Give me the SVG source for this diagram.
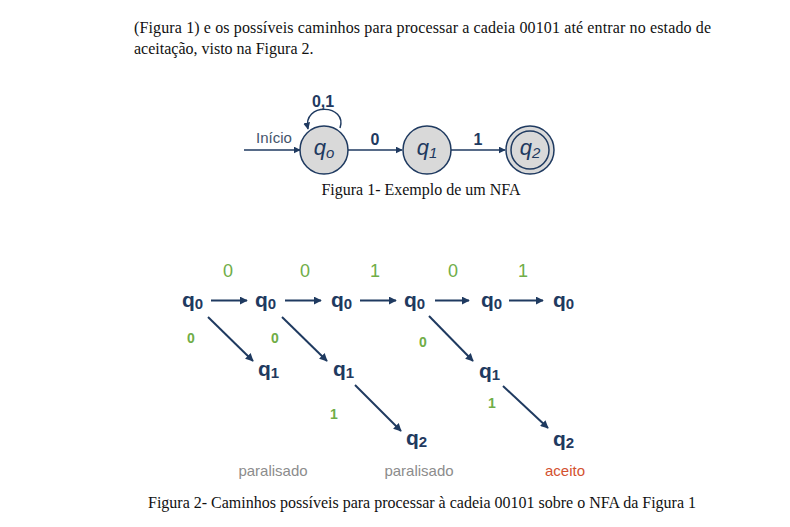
<svg xmlns="http://www.w3.org/2000/svg" width="790" height="527" viewBox="0 0 790 527">
<defs>
<marker id="ah" viewBox="0 0 10 10" refX="9" refY="5" markerWidth="7" markerHeight="7" markerUnits="userSpaceOnUse" orient="auto"><path d="M0,0 L10,5 L0,10 z" fill="#1f3a60"/></marker>
<marker id="ah2" viewBox="0 0 10 10" refX="9" refY="5" markerWidth="8" markerHeight="8" markerUnits="userSpaceOnUse" orient="auto"><path d="M0,0 L10,5 L0,10 z" fill="#1f3a60"/></marker>
<style>
.serif{font-family:"Liberation Serif","Times New Roman",serif;font-size:16px;fill:#111}
.st{fill:#d9d9d9;stroke:#1f3a60;stroke-width:1.5}
.e1{stroke:#1f3a60;stroke-width:1.5;fill:none;marker-end:url(#ah)}
.e2{stroke:#1f3a60;stroke-width:2;fill:none;marker-end:url(#ah2)}
.sl{font-family:"Liberation Sans",Arial,sans-serif;font-style:italic;font-size:22px;fill:#1f3a60;text-anchor:middle}
.lb{font-family:"Liberation Sans",Arial,sans-serif;font-weight:bold;font-size:16px;fill:#1f3a60;text-anchor:middle}
.q{font-family:"Liberation Sans",Arial,sans-serif;font-weight:bold;font-size:21px;fill:#1f3a60}
.g{font-family:"Liberation Sans",Arial,sans-serif;font-size:18px;fill:#70ad47;text-anchor:middle}
.gb{font-family:"Liberation Sans",Arial,sans-serif;font-weight:bold;font-size:14px;fill:#70ad47;text-anchor:middle}
.res{font-family:"Liberation Sans",Arial,sans-serif;font-size:15px;text-anchor:middle}
</style>
</defs>
<rect width="790" height="527" fill="#fff"/>
<text class="serif" x="134" y="33" textLength="577" lengthAdjust="spacing">(Figura 1) e os possíveis caminhos para processar a cadeia 00101 até entrar no estado de</text>
<text class="serif" x="134" y="54">aceitação, visto na Figura 2.</text>

<g id="connectors1">
<line class="e1" x1="244" y1="150" x2="300" y2="150"/>
<path class="e1" d="M340,128 C348,104 302,102 308,129"/>
<line class="e1" x1="348" y1="150" x2="402" y2="150"/>
<line class="e1" x1="451" y1="150" x2="505" y2="150"/>
<text x="274" y="143" font-family="Liberation Sans, Arial, sans-serif" font-size="15" fill="#44546a" text-anchor="middle">Início</text>
<text class="lb" x="323" y="107">0,1</text>
<text class="lb" x="375" y="145">0</text>
<text class="lb" x="478" y="145">1</text>
</g>
<g id="q0">
<circle class="st" cx="324" cy="150" r="24"/>
<text class="sl" x="324" y="155">q<tspan font-size="15" dy="3">o</tspan></text>
</g>
<g id="q1">
<circle class="st" cx="427" cy="150" r="24"/>
<text class="sl" x="427" y="155">q<tspan font-size="15" dy="3">1</tspan></text>
</g>
<g id="q2">
<circle class="st" cx="530" cy="150" r="24"/>
<circle class="st" cx="530" cy="150" r="19"/>
<text class="sl" x="530" y="155">q<tspan font-size="15" dy="3">2</tspan></text>
</g>
<text class="serif" x="421" y="195" text-anchor="middle">Figura 1- Exemplo de um NFA</text>

<g id="paths-connectors">
<line class="e2" x1="211" y1="300.5" x2="247" y2="300.5"/>
<line class="e2" x1="285" y1="300.5" x2="321" y2="300.5"/>
<line class="e2" x1="360" y1="300.5" x2="396" y2="300.5"/>
<line class="e2" x1="435" y1="300.5" x2="469" y2="300.5"/>
<line class="e2" x1="509" y1="300.5" x2="543" y2="300.5"/>
<line class="e2" x1="208" y1="317" x2="253" y2="361"/>
<line class="e2" x1="282" y1="317" x2="327" y2="361"/>
<line class="e2" x1="429" y1="316" x2="473" y2="361"/>
<line class="e2" x1="355" y1="385" x2="401" y2="431"/>
<line class="e2" x1="503" y1="386" x2="548" y2="428"/>
<text class="g" x="228" y="277">0</text>
<text class="g" x="305" y="277">0</text>
<text class="g" x="375" y="277">1</text>
<text class="g" x="453" y="277">0</text>
<text class="g" x="523" y="277">1</text>
<text class="gb" x="191" y="343">0</text>
<text class="gb" x="275" y="343">0</text>
<text class="gb" x="423" y="347">0</text>
<text class="gb" x="334" y="419">1</text>
<text class="gb" x="492" y="408">1</text>
</g>
<g id="p-q0-a"><text class="q" x="182" y="307">q<tspan font-size="15" dy="2">0</tspan></text></g>
<g id="p-q0-b"><text class="q" x="255" y="307">q<tspan font-size="15" dy="2">0</tspan></text></g>
<g id="p-q0-c"><text class="q" x="331" y="307">q<tspan font-size="15" dy="2">0</tspan></text></g>
<g id="p-q0-d"><text class="q" x="404" y="307">q<tspan font-size="15" dy="2">0</tspan></text></g>
<g id="p-q0-e"><text class="q" x="481" y="307">q<tspan font-size="15" dy="2">0</tspan></text></g>
<g id="p-q0-f"><text class="q" x="553" y="307">q<tspan font-size="15" dy="2">0</tspan></text></g>
<g id="p-q1-a"><text class="q" x="258" y="376">q<tspan font-size="15" dy="2">1</tspan></text></g>
<g id="p-q1-b"><text class="q" x="333" y="376">q<tspan font-size="15" dy="2">1</tspan></text></g>
<g id="p-q1-c"><text class="q" x="479" y="378">q<tspan font-size="15" dy="2">1</tspan></text></g>
<g id="p-q2-a"><text class="q" x="406" y="445">q<tspan font-size="15" dy="2">2</tspan></text></g>
<g id="p-q2-b"><text class="q" x="553" y="446">q<tspan font-size="15" dy="2">2</tspan></text></g>
<text class="res" x="273" y="476" fill="#8c8c8c">paralisado</text>
<text class="res" x="419" y="476" fill="#8c8c8c">paralisado</text>
<text class="res" x="565" y="476" fill="#d35230">aceito</text>
<text class="serif" x="422" y="508" text-anchor="middle">Figura 2- Caminhos possíveis para processar à cadeia 00101 sobre o NFA da Figura 1</text>
</svg>
